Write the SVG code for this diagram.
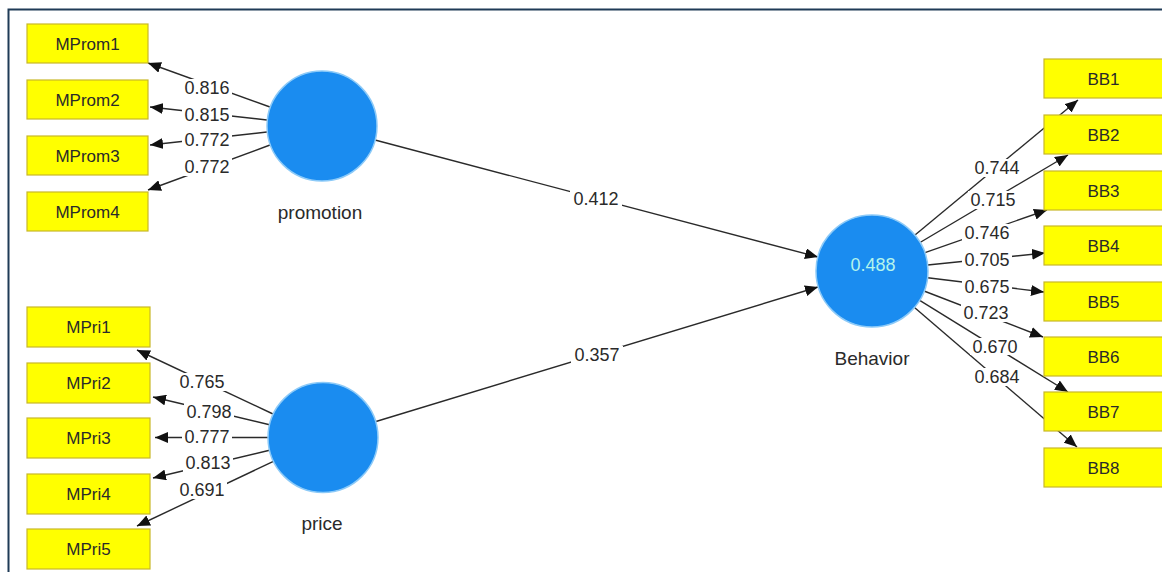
<svg xmlns="http://www.w3.org/2000/svg" width="1162" height="572" viewBox="0 0 1162 572">
<style>
.box{fill:#ffff00;stroke:#c8b828;stroke-width:1.2}
.bt{font-family:"Liberation Sans",Arial,sans-serif;font-size:17px;fill:#2a2a2a;text-anchor:middle}
.lv{fill:#1a8cf0;stroke:#8ccaf8;stroke-width:1.5}
.nt{font-family:"Liberation Sans",Arial,sans-serif;font-size:19px;fill:#2a2a2a;text-anchor:middle}
.ln{stroke:#2a2a2a;stroke-width:1.4;fill:none;marker-end:url(#ah)}
.lb{fill:#ffffff}
.lt{font-family:"Liberation Sans",Arial,sans-serif;font-size:18px;fill:#2a2a2a;text-anchor:middle}
</style>
<defs>
<marker id="ah" markerUnits="userSpaceOnUse" markerWidth="13" markerHeight="11" refX="13" refY="5.5" orient="auto">
<path d="M0,0 L13,5.5 L0,11 z" fill="#111"/>
</marker>
</defs>
<rect x="0" y="0" width="1162" height="572" fill="#ffffff"/>
<path d="M8.5,576 L8.5,9.5 L1166,9.5" fill="none" stroke="#1f3b57" stroke-width="2"/>
<g id="connectors">
<line class="ln" x1="270" y1="107" x2="148" y2="63"/>
<line class="ln" x1="267" y1="120" x2="150" y2="107"/>
<line class="ln" x1="267" y1="132" x2="150" y2="145"/>
<line class="ln" x1="270" y1="145" x2="148" y2="190"/>
<line class="ln" x1="273" y1="414" x2="137" y2="350"/>
<line class="ln" x1="269.5" y1="424.7" x2="153" y2="397"/>
<line class="ln" x1="268" y1="437.5" x2="155" y2="437.5"/>
<line class="ln" x1="269.5" y1="450.3" x2="153" y2="478"/>
<line class="ln" x1="273.4" y1="461.4" x2="137" y2="526"/>
<line class="ln" x1="915" y1="235" x2="1078" y2="100"/>
<line class="ln" x1="920" y1="242.5" x2="1068" y2="155"/>
<line class="ln" x1="925" y1="252.6" x2="1047" y2="210"/>
<line class="ln" x1="927.7" y1="265" x2="1045" y2="253"/>
<line class="ln" x1="927.6" y1="277.8" x2="1044" y2="292"/>
<line class="ln" x1="924" y1="291" x2="1043" y2="337"/>
<line class="ln" x1="919.7" y1="300.4" x2="1068" y2="392"/>
<line class="ln" x1="914.5" y1="307.5" x2="1077" y2="447"/>
<line class="ln" x1="375" y1="140" x2="818" y2="257"/>
<line class="ln" x1="376" y1="421.5" x2="818" y2="287"/>
<g>
<rect class="lb" x="182" y="79" width="50" height="18"/><text class="lt" x="207" y="94">0.816</text>
<rect class="lb" x="182" y="106" width="50" height="18"/><text class="lt" x="207" y="121">0.815</text>
<rect class="lb" x="182" y="131" width="50" height="18"/><text class="lt" x="207" y="146">0.772</text>
<rect class="lb" x="182" y="158" width="50" height="18"/><text class="lt" x="207" y="173">0.772</text>
<rect class="lb" x="177" y="373" width="50" height="18"/><text class="lt" x="202" y="388">0.765</text>
<rect class="lb" x="184" y="403" width="50" height="18"/><text class="lt" x="209" y="418">0.798</text>
<rect class="lb" x="182" y="428" width="50" height="18"/><text class="lt" x="207" y="443">0.777</text>
<rect class="lb" x="183" y="454" width="50" height="18"/><text class="lt" x="208" y="469">0.813</text>
<rect class="lb" x="177" y="481" width="50" height="18"/><text class="lt" x="202" y="496">0.691</text>
<rect class="lb" x="972" y="159" width="50" height="18"/><text class="lt" x="997" y="174">0.744</text>
<rect class="lb" x="968" y="191" width="50" height="18"/><text class="lt" x="993" y="206">0.715</text>
<rect class="lb" x="962" y="224" width="50" height="18"/><text class="lt" x="987" y="239">0.746</text>
<rect class="lb" x="962" y="251" width="50" height="18"/><text class="lt" x="987" y="266">0.705</text>
<rect class="lb" x="962" y="278" width="50" height="18"/><text class="lt" x="987" y="293">0.675</text>
<rect class="lb" x="961" y="304" width="50" height="18"/><text class="lt" x="986" y="319">0.723</text>
<rect class="lb" x="970" y="338" width="50" height="17"/><text class="lt" x="995" y="353">0.670</text>
<rect class="lb" x="972" y="368" width="50" height="18"/><text class="lt" x="997" y="383">0.684</text>
<rect class="lb" x="570" y="190" width="52" height="18"/><text class="lt" x="596" y="205">0.412</text>
<rect class="lb" x="571" y="346" width="52" height="18"/><text class="lt" x="597" y="361">0.357</text>
</g>
</g>
<g id="MProm1"><rect class="box" x="27" y="24" width="121" height="39"/><text class="bt" x="87.5" y="49.5">MProm1</text></g>
<g id="MProm2"><rect class="box" x="27" y="80" width="121" height="39"/><text class="bt" x="87.5" y="105.5">MProm2</text></g>
<g id="MProm3"><rect class="box" x="27" y="136" width="121" height="39"/><text class="bt" x="87.5" y="161.5">MProm3</text></g>
<g id="MProm4"><rect class="box" x="27" y="192" width="121" height="39"/><text class="bt" x="87.5" y="217.5">MProm4</text></g>
<g id="MPri1"><rect class="box" x="27" y="307" width="123" height="40"/><text class="bt" x="88.5" y="333">MPri1</text></g>
<g id="MPri2"><rect class="box" x="27" y="363" width="123" height="40"/><text class="bt" x="88.5" y="389">MPri2</text></g>
<g id="MPri3"><rect class="box" x="27" y="418" width="123" height="40"/><text class="bt" x="88.5" y="444">MPri3</text></g>
<g id="MPri4"><rect class="box" x="27" y="474" width="123" height="40"/><text class="bt" x="88.5" y="500">MPri4</text></g>
<g id="MPri5"><rect class="box" x="27" y="529" width="123" height="40"/><text class="bt" x="88.5" y="555">MPri5</text></g>
<g id="BB1"><rect class="box" x="1044" y="59" width="125" height="39"/><text class="bt" x="1103.5" y="84.5">BB1</text></g>
<g id="BB2"><rect class="box" x="1044" y="115" width="125" height="39"/><text class="bt" x="1103.5" y="140.5">BB2</text></g>
<g id="BB3"><rect class="box" x="1044" y="171" width="125" height="39"/><text class="bt" x="1103.5" y="196.5">BB3</text></g>
<g id="BB4"><rect class="box" x="1044" y="226" width="125" height="39"/><text class="bt" x="1103.5" y="251.5">BB4</text></g>
<g id="BB5"><rect class="box" x="1044" y="282" width="125" height="39"/><text class="bt" x="1103.5" y="307.5">BB5</text></g>
<g id="BB6"><rect class="box" x="1044" y="337" width="125" height="39"/><text class="bt" x="1103.5" y="362.5">BB6</text></g>
<g id="BB7"><rect class="box" x="1044" y="392" width="125" height="39"/><text class="bt" x="1103.5" y="417.5">BB7</text></g>
<g id="BB8"><rect class="box" x="1044" y="448" width="125" height="39"/><text class="bt" x="1103.5" y="473.5">BB8</text></g>
<g id="promotion"><circle class="lv" cx="322" cy="126" r="55"/><text class="nt" x="320" y="219">promotion</text></g>
<g id="price"><circle class="lv" cx="323" cy="437.5" r="55"/><text class="nt" x="322" y="530">price</text></g>
<g id="Behavior"><circle class="lv" cx="872" cy="271" r="56"/><text class="lt" x="873" y="271" style="fill:#b4f4ec">0.488</text><text class="nt" x="872" y="365">Behavior</text></g>
</svg>
